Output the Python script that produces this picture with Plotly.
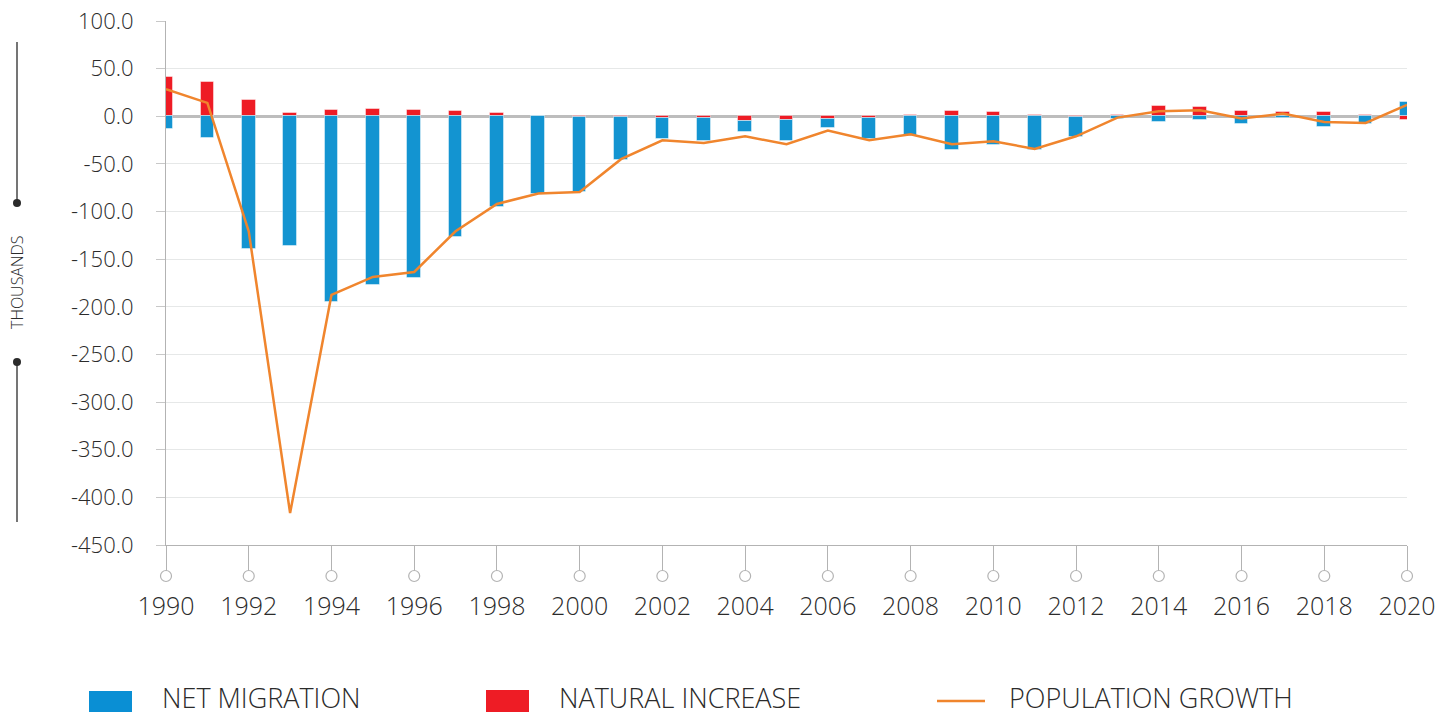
"""Population change chart: net migration, natural increase and population growth."""

import plotly.graph_objects as go

years = list(range(1990, 2021))

net_migration = [
    -13.3, -22.7, -138.9, -136.5, -194.5, -176.7, -170.0, -126.7, -95.5, -81.5,
    -79.5, -45.3, -21.3, -24.8, -12.3, -22.0, -9.1, -22.4, -21.0, -35.3,
    -30.4, -35.7, -21.5, -2.8, -6.3, -3.5, -8.0, -2.1, -10.8, -8.4,
    15.4,
]
natural_increase = [
    41.6, 36.4, 17.5, 3.5, 7.0, 7.3, 7.0, 5.9, 3.1, 0.5,
    -0.3, -0.5, -2.1, -1.4, -4.5, -3.5, -3.1, -1.4, 1.7, 5.6,
    4.2, 1.7, -0.5, 1.0, 11.2, 9.4, 5.2, 4.9, 4.5, 1.4,
    -4.2,
]
population_growth = [
    28.5, 14.0, -120.7, -416.5, -187.5, -168.6, -163.4, -120.7, -92.0, -81.0,
    -79.4, -45.0, -25.2, -28.0, -21.0, -29.4, -15.0, -25.2, -18.9, -29.4,
    -26.2, -34.3, -21.0, -1.4, 5.2, 6.3, -2.4, 2.8, -5.9, -7.0,
    12.0,
]

y_ticks = [100, 50, 0, -50, -100, -150, -200, -250, -300, -350, -400, -450]
y_tick_labels = ["100.0", "50.0", "0.0", "-50.0", "-100.0", "-150.0", "-200.0",
                 "-250.0", "-300.0", "-350.0", "-400.0", "-450.0"]
x_ticks = years[::2]
x_range = [1990, 2020]

BLUE = "#1394D1"
RED = "#EE1C25"
ORANGE = "#F0852D"
AXIS_GREY = "#B3B3B3"
TEXT = "#2B2B2B"
FONT = "Open Sans"

# plot area in pixels, used to place the hand-made legend and side label
L, R, T, B = 166, 1407, 21, 545


def px_x(px):
    return (px - L) / (R - L)


def px_y(py):
    return (B - py) / (B - T)


fig = go.Figure()
fig.add_trace(go.Bar(
    x=years, y=natural_increase, name="NATURAL INCREASE", width=0.33,
    marker=dict(color=RED, line=dict(color="rgba(255,255,255,0.45)", width=1)),
    cliponaxis=False,
))
fig.add_trace(go.Bar(
    x=years, y=net_migration, name="NET MIGRATION", width=0.33,
    marker=dict(color=BLUE, line=dict(color="rgba(255,255,255,0.45)", width=1)),
    cliponaxis=False,
))
fig.add_trace(go.Scatter(
    x=years, y=population_growth, name="POPULATION GROWTH", mode="lines",
    line=dict(color=ORANGE, width=2.5), cliponaxis=False,
))

shapes = []
# hollow circles under the x ticks (paper refs so the end ones are not clipped)
for yr in x_ticks:
    xp = (yr - x_range[0]) / (x_range[1] - x_range[0])
    shapes.append(dict(
        type="circle", xref="paper", yref="paper", xsizemode="pixel", ysizemode="pixel",
        xanchor=xp, yanchor=0, x0=-5.5, x1=5.5, y0=-36.5, y1=-25.5,
        line=dict(color=AXIS_GREY, width=1.2), fillcolor="white",
    ))

# side label lines with dots
xs = px_x(17)
shapes += [
    dict(type="line", xref="paper", yref="paper", x0=xs, x1=xs, y0=px_y(42), y1=px_y(203),
         line=dict(color=TEXT, width=1.3)),
    dict(type="line", xref="paper", yref="paper", x0=xs, x1=xs, y0=px_y(362), y1=px_y(522),
         line=dict(color=TEXT, width=1.3)),
]
for py in (203, 362):
    shapes.append(dict(
        type="circle", xref="paper", yref="paper", xsizemode="pixel", ysizemode="pixel",
        xanchor=xs, yanchor=px_y(py), x0=-4, x1=4, y0=-4, y1=4,
        line=dict(color=TEXT, width=0), fillcolor=TEXT,
    ))

# legend swatches
shapes += [
    dict(type="rect", xref="paper", yref="paper", x0=px_x(89), x1=px_x(132),
         y0=px_y(691), y1=px_y(712), fillcolor="#0A8FD4", line=dict(width=0)),
    dict(type="rect", xref="paper", yref="paper", x0=px_x(486), x1=px_x(529),
         y0=px_y(690), y1=px_y(712), fillcolor=RED, line=dict(width=0)),
    dict(type="line", xref="paper", yref="paper", x0=px_x(937), x1=px_x(985),
         y0=px_y(701), y1=px_y(701), line=dict(color=ORANGE, width=2.5)),
]

annotations = [
    dict(text="THOUSANDS", textangle=-90, xref="paper", yref="paper",
         x=xs, y=px_y(282), xanchor="center", yanchor="middle", showarrow=False,
         font=dict(family=FONT, size=16, color=TEXT, weight=300)),
]
for label, left in (("NET MIGRATION", 161), ("NATURAL INCREASE", 558), ("POPULATION GROWTH", 1008)):
    annotations.append(dict(
        text=label, xref="paper", yref="paper", x=px_x(left), y=px_y(697),
        xanchor="left", yanchor="middle", showarrow=False, borderpad=0,
        font=dict(family=FONT, size=27, color=TEXT, weight=300),
    ))

fig.update_layout(
    width=1451, height=716,
    margin=dict(l=L, r=1451 - R, t=T, b=716 - B, pad=0),
    barmode="relative",
    bargap=0,
    showlegend=False,
    plot_bgcolor="white", paper_bgcolor="white",
    font=dict(family=FONT, color=TEXT),
    shapes=shapes,
    annotations=annotations,
    xaxis=dict(
        range=x_range, showgrid=False, zeroline=False, automargin=False,
        showline=True, linecolor=AXIS_GREY, linewidth=1.2,
        tickvals=x_ticks, ticks="outside", ticklen=25, tickwidth=1.2, tickcolor=AXIS_GREY,
        ticklabelstandoff=14,
        tickfont=dict(family=FONT, size=25, color=TEXT, weight=300),
    ),
    yaxis=dict(
        range=[-450, 100], tickvals=y_ticks, ticktext=y_tick_labels, automargin=False,
        showgrid=True, gridcolor="#E6E8E8", gridwidth=1.2,
        zeroline=True, zerolinecolor="#BDBDBD", zerolinewidth=2.5,
        showline=True, linecolor=AXIS_GREY, linewidth=1.2,
        ticks="outside", ticklen=9, tickwidth=1.2, tickcolor="#C8C8C8",
        ticklabelstandoff=18,
        tickfont=dict(family=FONT, size=22, color=TEXT, weight=300),
    ),
)

# drop the default page margin so the figure sits at the window's top-left corner
fig.write_html(
    "out.html",
    config={"displayModeBar": False},
    post_script="document.body.style.margin = '0';",
)
